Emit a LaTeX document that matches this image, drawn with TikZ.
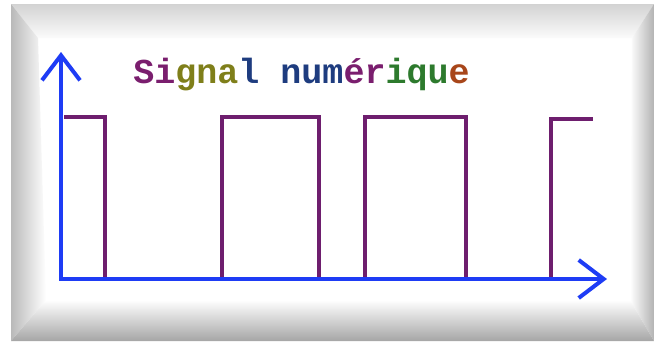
\documentclass[tikz,border=0pt]{standalone}
\usepackage{fontspec}
\newfontfamily\monob{Liberation Mono}
\usetikzlibrary{arrows.meta}
\definecolor{cpurple}{HTML}{7A1E6E}
\definecolor{colive}{HTML}{7F7F1A}
\definecolor{cnavy}{HTML}{1E3C7F}
\definecolor{cgreen}{HTML}{2D7A2D}
\definecolor{cbrown}{HTML}{A8461A}
\definecolor{sigline}{HTML}{6E1E6E}
\definecolor{axisblue}{HTML}{1E3CF5}
\tikzset{
  axisline/.style={draw=axisblue, line width=4pt, line join=miter,
    {Straight Barb[length=25pt,width=38pt]}-{Straight Barb[length=25pt,width=38pt]}},
  sigpath/.style={draw=sigline, line width=4pt, line join=miter},
  title/.style={font=\monob\bfseries\fontsize{35}{35}\selectfont, inner sep=0pt, anchor=base}
}
\begin{document}
\begin{tikzpicture}[x=1pt,y=-1pt]
\useasboundingbox (0,0) rectangle (654,341);
\fill[white] (0,0) rectangle (654,341);
% bevel frame
\shade[top color=gray!35, bottom color=gray!3] (11,4) -- (654,4) -- (632,38) -- (38,38) -- cycle;
\shade[left color=gray!55, right color=white] (11,4) -- (38,38) -- (46,300) -- (11,341) -- cycle;
\shade[left color=white, right color=gray!60] (654,4) -- (654,341) -- (630,300) -- (632,38) -- cycle;
\shade[top color=white, bottom color=gray!70] (11,341) -- (46,300) -- (630,300) -- (654,341) -- cycle;
% signal
\coordinate (s0) at (64,117);
\coordinate (s1) at (105,117);
\coordinate (s2) at (105,279);
\coordinate (s3) at (222,279);
\coordinate (s4) at (222,117);
\coordinate (s5) at (319,117);
\coordinate (s6) at (319,279);
\coordinate (s7) at (365,279);
\coordinate (s8) at (365,117);
\coordinate (s9) at (466,117);
\coordinate (s10) at (466,279);
\coordinate (s11) at (551,279);
\coordinate (s12) at (551,119);
\coordinate (s13) at (593,119);
\path[sigpath] (s0) -- (s1) -- (s2) -- (s3) -- (s4) -- (s5) -- (s6) -- (s7) -- (s8) -- (s9) -- (s10) -- (s11) -- (s12) -- (s13);
% axes
\coordinate (ytip) at (61,52);
\coordinate (origin) at (61,279);
\coordinate (xtip) at (607,279);
\path[axisline] (ytip) -- (origin) -- (xtip);
% title
\node[title] (t) at (301.5,83) {\textcolor{cpurple}{Si}\textcolor{colive}{gna}\textcolor{cnavy}{l} \textcolor{cnavy}{num}\textcolor{cpurple}{ér}\textcolor{cgreen}{iqu}\textcolor{cbrown}{e}};
\end{tikzpicture}
\end{document}
